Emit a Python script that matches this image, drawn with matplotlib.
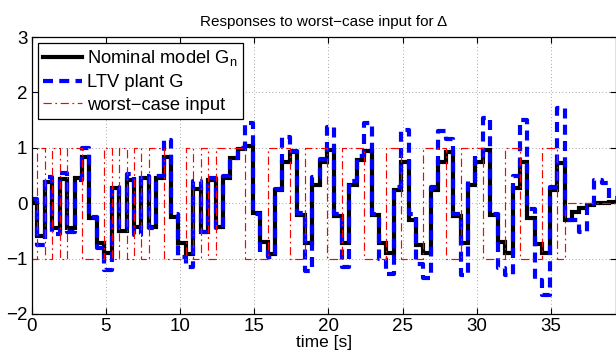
import numpy as np
import matplotlib
matplotlib.use("Agg")
import matplotlib.pyplot as plt

plt.rcParams['font.family'] = ['Liberation Sans', 'DejaVu Sans']
plt.rcParams['mathtext.default'] = 'regular'

# sample instants (start of each held interval) [s]
t_start = [0.0] + [0.4 + 0.5 * k for k in range(78)]
t_end = 39.4

nominal = [0.0, -0.6, 0.38, -0.45, 0.43, -0.45, 0.45, 0.83, -0.27, -0.72,
           -0.9, 0.27, -0.5, 0.42, -0.43, 0.45, -0.43, 0.45, 0.84, -0.25,
           -0.72, -0.92, 0.25, -0.52, 0.42, -0.43, 0.45, 0.81, 0.97, 1.03,
           -0.18, -0.7, -0.92, 0.23, 0.75, 0.93, -0.22, -0.72, 0.32, 0.75,
           0.96, -0.23, -0.72, 0.32, 0.78, 0.94, -0.22, -0.72, -0.9, 0.23,
           0.75, -0.31, -0.75, -0.9, 0.23, 0.75, 0.93, -0.24, -0.72, 0.32,
           0.75, 0.96, -0.22, -0.7, -0.9, 0.27, 0.75, -0.27, -0.73, -0.9,
           0.23, 0.72, -0.31, -0.15, -0.08, -0.04, 0.0, 0.01, 0.02]

ltv = [0.08, -0.75, 0.48, -0.55, 0.55, -0.52, 0.42, 1.0, -0.25, -0.8,
       -1.2, 0.3, -0.45, 0.52, -0.58, 0.5, -0.45, 0.5, 1.14, -0.2,
       -0.97, -1.15, 0.4, -0.52, 0.45, -0.45, 0.5, 0.82, 1.0, 1.45,
       -0.2, -0.88, -0.97, 0.25, 1.2, 0.95, -0.18, -1.22, 0.47, 0.8,
       1.37, -0.2, -1.16, 0.4, 0.85, 1.45, -0.2, -1.0, -1.27, 0.3,
       1.32, -0.2, -1.1, -1.35, 0.3, 1.3, 1.15, -0.2, -1.3, 0.4,
       0.85, 1.53, -0.2, -1.17, -1.3, 0.5, 1.5, -0.1, -1.39, -1.66,
       0.3, 1.72, -0.3, -0.3, -0.52, -0.05, 0.42, 0.37, 0.1]

worst_input = [-1, 1, -1, 1, -1, 1, 1, -1, -1, -1, 1, -1, 1, -1, 1, -1, 1, 1,
               -1, -1, -1, 1, -1, 1, -1, 1, 1, 1, 1, -1, -1, -1, 1, 1, 1, -1,
               -1, 1, 1, 1, -1, -1, 1, 1, 1, -1, -1, -1, 1, 1, -1, -1, -1, 1,
               1, 1, -1, -1, 1, 1, 1, -1, -1, -1, 1, 1, -1, -1, -1, 1, 1, -1,
               0, 0, 0, 0, 0, 0, 0]

x_ticks = [0, 5, 10, 15, 20, 25, 30, 35]
y_ticks = [-2, -1, 0, 1, 2, 3]

def stairs(vals):
    return np.append(t_start, t_end), np.append(vals, vals[-1])

fig = plt.figure(figsize=(6.16, 3.6), dpi=100)
ax = fig.add_axes([31.5 / 616, 46 / 360, (616.5 - 31.5) / 616, 277 / 360])

x, y = stairs(nominal)
ax.plot(x, y, drawstyle='steps-post', color='k', lw=3.0, label='Nominal model G$_n$',
        solid_joinstyle='miter')
x, y = stairs(ltv)
ax.plot(x, y, drawstyle='steps-post', color=(0, 0, 1), lw=3.0, dashes=(2.4, 1.5),
        label='LTV plant G')
x, y = stairs(worst_input)
ax.plot(x, y, drawstyle='steps-post', color=(1, 0, 0), lw=0.85,
        dashes=(7, 3, 1.5, 3), label='worst\u2212case input')

ax.set_xlim(0, t_end)
ax.set_ylim(-2, 3)
ax.set_xticks(x_ticks)
ax.set_yticks(y_ticks)
ax.grid(True, color='k', linestyle=(0, (0.8, 3.2)), lw=0.6, alpha=0.6)
ax.tick_params(direction='in', length=4.5, width=0.8, top=True, right=True,
               labelsize=13.5, pad=3, colors='k')
for s in ax.spines.values():
    s.set_linewidth(0.9)

ax.set_title('Responses to worst\u2212case input for \u0394', fontsize=11, pad=8)
ax.set_xlabel('time [s]', fontsize=12.5, labelpad=0)

leg = ax.legend(loc='upper left', bbox_to_anchor=(6 / 585, 1 - 6 / 277),
                borderaxespad=0, fontsize=13.2, frameon=True, fancybox=False,
                handlelength=2.1, handletextpad=0.3, labelspacing=0.3,
                borderpad=0.3)
leg.get_frame().set_edgecolor('k')
leg.get_frame().set_linewidth(0.9)
leg.get_frame().set_alpha(1)

fig.savefig('out.png', dpi=100)
